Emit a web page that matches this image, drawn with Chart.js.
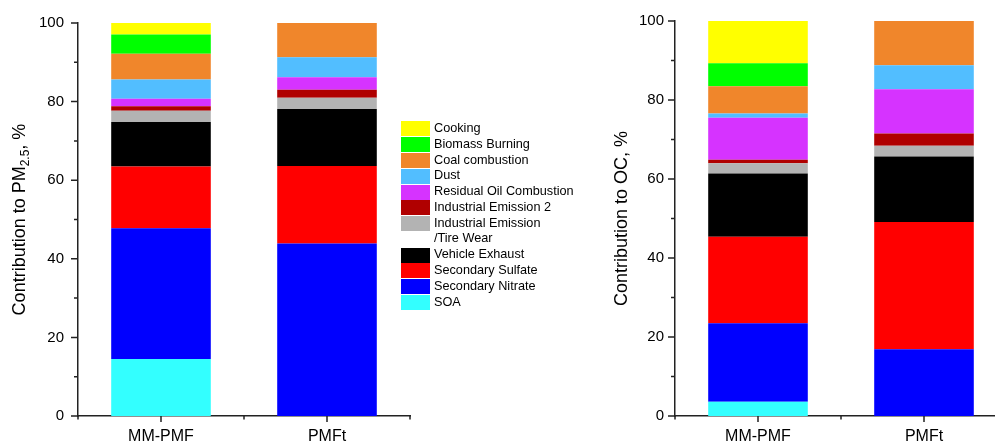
<!DOCTYPE html>
<html>
<head>
<meta charset="utf-8">
<script src="https://cdn.jsdelivr.net/npm/chart.js@4.4.0/dist/chart.umd.min.js"></script>
<style>
  html, body { margin: 0; padding: 0; width: 995px; height: 443px; overflow: hidden; background: #fff; }
  canvas { position: absolute; top: 0; }
  #legend { position: absolute; left: 401px; top: 121px; font-family: 'Liberation Sans', Arial, sans-serif; font-size: 12.7px; color: #000; }
  .item { display: flex; align-items: flex-start; }
  .box { width: 29px; height: 15px; margin: 0.4px 4px 0.4px 0; flex: none; }
  .lbl { line-height: 15.75px; white-space: pre-line; }
</style>
</head>
<body>
<canvas id="pmChart" width="420" height="443" style="left:0"></canvas>
<canvas id="ocChart" width="417" height="443" style="left:600px"></canvas>
<div id="legend"></div>
<script>
// categories and sources (sources listed bottom of stack -> top)
const categories = ['MM-PMF', 'PMFt'];
const sources = ['SOA', 'Secondary Nitrate', 'Secondary Sulfate', 'Vehicle Exhaust',
  'Industrial Emission\n/Tire Wear', 'Industrial Emission 2', 'Residual Oil Combustion',
  'Dust', 'Coal combustion', 'Biomass Burning', 'Cooking'];
const colors = ['#33FFFF', '#0000FF', '#FF0000', '#000000', '#B3B3B3', '#B00000',
  '#D633FF', '#52BEFF', '#F0862B', '#00FF00', '#FFFF00'];

// contribution, % (same order as sources)
const pmMMPMF = [14.5, 33.3, 15.7, 11.3, 2.9, 1.1, 1.9, 4.9, 6.6, 4.9, 2.9];
const pmPMFt  = [0, 43.9, 19.7, 14.5, 2.9, 2.0, 3.2, 5.1, 8.7, 0, 0];
const ocMMPMF = [3.6, 19.9, 21.9, 16.0, 2.6, 0.9, 10.6, 1.1, 6.9, 5.8, 10.7];
const ocPMFt  = [0, 16.9, 32.2, 16.6, 2.7, 3.1, 11.2, 6.1, 11.2, 0, 0];

const yTicks = [0, 20, 40, 60, 80, 100];

const FONT = "'Liberation Sans', Arial, sans-serif";

// axis ticks (major + minor) and y title with subscript
const axisDeco = {
  id: 'axisDeco',
  afterDraw(chart, args, opts) {
    const ctx = chart.ctx, xs = chart.scales.x, ys = chart.scales.y, a = chart.chartArea;
    ctx.save();
    ctx.strokeStyle = '#222';
    ctx.lineWidth = 1.5;
    ctx.beginPath();
    for (let v = 0; v <= 100; v += 10) {
      const py = ys.getPixelForValue(v);
      const len = v % 20 === 0 ? 7 : 4;
      ctx.moveTo(a.left - len, py); ctx.lineTo(a.left, py);
    }
    categories.forEach((c, i) => {
      const px = xs.getPixelForValue(i);
      ctx.moveTo(px, a.bottom); ctx.lineTo(px, a.bottom + 6);
    });
    for (let i = 0; i <= categories.length; i++) {
      const px = xs.getPixelForValue(i - 0.5);
      ctx.moveTo(px, a.bottom); ctx.lineTo(px, a.bottom + 3.5);
    }
    ctx.stroke();

    // rotated title
    const parts = opts.title;
    ctx.translate(opts.baseX, (a.top + a.bottom) / 2);
    ctx.rotate(-Math.PI / 2);
    ctx.fillStyle = '#000';
    ctx.textBaseline = 'alphabetic';
    let total = 0;
    parts.forEach(p => {
      ctx.font = (p.sub ? '12px ' : '18px ') + FONT;
      p.w = ctx.measureText(p.t).width;
      total += p.w;
    });
    let x = -total / 2;
    parts.forEach(p => {
      ctx.font = (p.sub ? '12px ' : '18px ') + FONT;
      ctx.fillText(p.t, x, p.sub ? 4 : 0);
      x += p.w;
    });
    ctx.restore();
  }
};

function makeChart(id, mm, pmft, yWidth, labelPad, title, baseX) {
  const datasets = sources.map((s, i) => ({
    label: s,
    data: [mm[i], pmft[i]],
    backgroundColor: colors[i],
    borderWidth: 0,
    categoryPercentage: 1.0,
    barPercentage: 0.6
  }));
  return new Chart(document.getElementById(id), {
    type: 'bar',
    data: { labels: categories, datasets: datasets },
    plugins: [axisDeco],
    options: {
      responsive: false,
      animation: false,
      layout: { padding: { top: 21, right: 10, bottom: 0, left: 0 } },
      plugins: {
        legend: { display: false },
        tooltip: { enabled: false },
        axisDeco: { title: title, baseX: baseX }
      },
      scales: {
        x: {
          stacked: true,
          grid: { display: false, drawTicks: false },
          border: { display: true, color: '#222', width: 1.5 },
          ticks: { color: '#000', font: { family: FONT, size: 16 }, padding: 11 },
          afterFit(s) { s.height = 27; }
        },
        y: {
          stacked: true,
          min: 0, max: 100,
          afterBuildTicks(s) { s.ticks = yTicks.map(v => ({ value: v })); },
          grid: { display: false, drawTicks: false },
          border: { display: true, color: '#222', width: 1.5 },
          ticks: { color: '#000', font: { family: FONT, size: 15 }, padding: labelPad },
          afterFit(s) { s.width = yWidth; }
        }
      }
    }
  });
}

makeChart('pmChart', pmMMPMF, pmPMFt, 78, 14,
  [{ t: 'Contribution to PM' }, { t: '2.5', sub: true }, { t: ', %' }], 24.5);
makeChart('ocChart', ocMMPMF, ocPMFt, 75, 11,
  [{ t: 'Contribution to OC, %' }], 27.3);

// shared legend (top of stack first)
const legend = document.getElementById('legend');
for (let i = sources.length - 1; i >= 0; i--) {
  const item = document.createElement('div');
  item.className = 'item';
  item.innerHTML = '<span class="box" style="background:' + colors[i] + '"></span>';
  const lbl = document.createElement('span');
  lbl.className = 'lbl';
  lbl.textContent = sources[i];
  item.appendChild(lbl);
  legend.appendChild(item);
}
</script>
</body>
</html>
